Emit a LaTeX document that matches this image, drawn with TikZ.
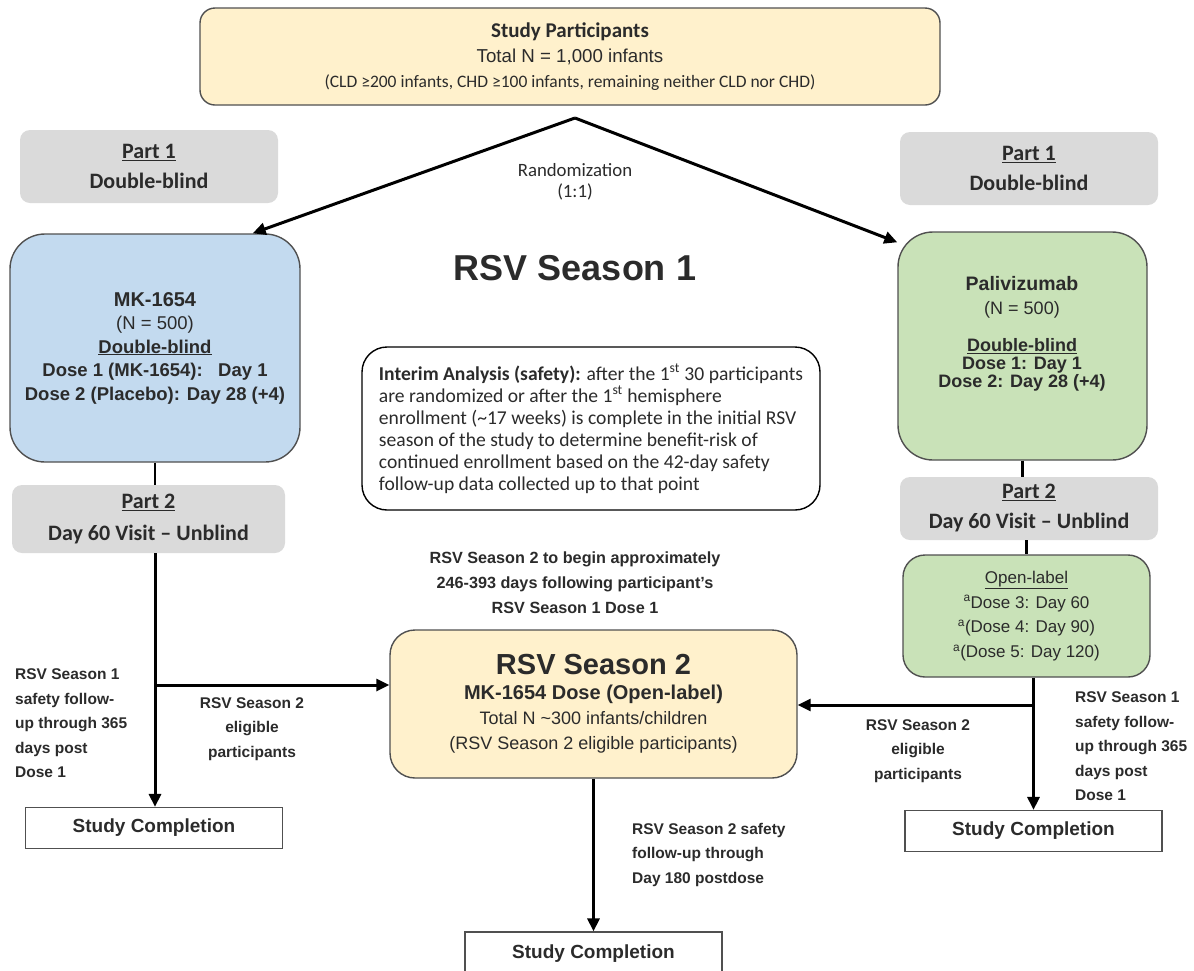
\documentclass[tikz,border=0pt]{standalone}
\usepackage{fontspec}
\setmainfont{Liberation Sans}
\newfontfamily\calibri{Carlito}
\usetikzlibrary{arrows.meta}
\definecolor{paleyellow}{HTML}{FFF1CC}
\definecolor{paleblue}{HTML}{C3DAEF}
\definecolor{palegreen}{HTML}{C9E2B8}
\definecolor{partgray}{HTML}{DADADA}
\definecolor{edgegray}{HTML}{505050}
\definecolor{inkgray}{HTML}{2B2B2B}

\begin{document}
\begin{tikzpicture}[x=1pt,y=-1pt,
  every node/.style={text=inkgray,inner sep=0pt},
  roundbox/.style={draw=edgegray,line width=1.4pt,minimum width=#1},
  partbox/.style={fill=partgray,rounded corners=10pt,minimum width=258pt,align=center,
    font=\calibri\bfseries\fontsize{22}{30}\selectfont},
  endbox/.style={draw=edgegray,line width=1.2pt,minimum width=257pt,minimum height=41pt,
    font=\bfseries\fontsize{19}{22}\selectfont},
  note/.style={align=center,font=\bfseries\fontsize{15.5}{24.5}\selectfont},
  arr/.style={line width=3pt,-{Triangle[length=13pt,width=12pt]}},
  link/.style={line width=2.5pt}]
\useasboundingbox (0,0) rectangle (1194,970);

\node[roundbox=740pt,fill=paleyellow,rounded corners=15pt,minimum height=97pt,align=center,
  font=\fontsize{18.7}{25}\selectfont] (top) at (570,56.5)
  {{\calibri\bfseries\fontsize{21}{25}\selectfont Study Participants}\\ Total N = 1,000 infants\\
   {\calibri\fontsize{17.5}{24}\selectfont (CLD ≥200 infants, CHD ≥100 infants, remaining neither CLD nor CHD)}};

\node[partbox,minimum height=73pt] (part1l) at (149,166.5) {\underline{Part 1}\\ Double-blind};
\node[partbox,minimum height=73pt] (part1r) at (1029,168.5) {\underline{Part 1}\\ Double-blind};

\coordinate (split) at (575,118);
\node[align=center,font=\calibri\fontsize{18.8}{21}\selectfont] (rand) at (575,182) {Randomization\\ (1:1)};
\node[font=\bfseries\fontsize{36}{40}\selectfont] (season1) at (575,268) {RSV Season 1};

\node[roundbox=290pt,fill=paleblue,rounded corners=35pt,minimum height=228pt,align=center,
  font=\bfseries\fontsize{18.5}{23.5}\selectfont] (mk) at (155,348)
  {{\fontsize{20}{23.5}\selectfont MK-1654}\\ {\mdseries (N = 500)}\\ \underline{Double-blind}\\
   Dose 1 (MK-1654):\ \ \ Day 1\\ Dose 2 (Placebo): Day 28 (+4)};

\node[roundbox=249pt,fill=palegreen,rounded corners=35pt,minimum height=228pt] (pali) at (1022.5,346) {};
\node[align=center,font=\bfseries\fontsize{18}{18}\selectfont] (palitext) at (1022,334)
  {{\fontsize{19.5}{18}\selectfont Palivizumab}\\[6pt] {\mdseries (N = 500)}\\[19pt]
   \underline{Double-blind}\\ Dose 1: Day 1\\ Dose 2: Day 28 (+4)};

\node[roundbox=458pt,fill=white,rounded corners=25pt,minimum height=163pt,align=left,
  font=\calibri\fontsize{19.6}{22}\selectfont,draw=black] (interim) at (591,428.5)
  {\textbf{Interim Analysis (safety):} after the 1\textsuperscript{st} 30 participants\\
   are randomized or after the 1\textsuperscript{st} hemisphere\\
   enrollment (\textasciitilde17 weeks) is complete in the initial RSV\\
   season of the study to determine benefit-risk of\\
   continued enrollment based on the 42-day safety\\
   follow-up data collected up to that point};

\node[partbox,minimum width=273pt,minimum height=68pt,font=\calibri\bfseries\fontsize{22}{32}\selectfont]
  (part2l) at (148.5,519) {\underline{Part 2}\\ Day 60 Visit – Unblind};
\node[partbox,minimum height=63pt] (part2r) at (1029,508.5) {\underline{Part 2}\\ Day 60 Visit – Unblind};

\node[roundbox=247pt,fill=palegreen,rounded corners=22pt,minimum height=122pt,align=center,
  font=\fontsize{17}{24.7}\selectfont] (open) at (1026.5,616)
  {\underline{Open-label}\\ \textsuperscript{a}Dose 3: Day 60\\ \textsuperscript{a}(Dose 4: Day 90)\\
   \textsuperscript{a}(Dose 5: Day 120)};

\node[note,font=\bfseries\fontsize{16.2}{25}\selectfont] (gap) at (575,583)
  {RSV Season 2 to begin approximately\\ 246-393 days following participant's\\ RSV Season 1 Dose 1};

\node[roundbox=407pt,fill=paleyellow,rounded corners=25pt,minimum height=148pt,align=center,
  font=\fontsize{18}{25}\selectfont] (season2) at (593.5,704)
  {{\bfseries\fontsize{29}{32}\selectfont RSV Season 2}\\ {\bfseries\fontsize{20}{25}\selectfont MK-1654 Dose (Open-label)}\\
   Total N \textasciitilde300 infants/children\\ (RSV Season 2 eligible participants)};

\node[endbox] (endl) at (154,828) {Study Completion};
\node[endbox] (endr) at (1033.5,831) {Study Completion};
\node[endbox,minimum height=43pt] (endb) at (593.5,953.5) {Study Completion};

\node[note,align=left,anchor=west] (fupl) at (15,723.5) {RSV Season 1\\ safety follow-\\ up through 365\\ days post\\ Dose 1};
\node[note,anchor=west,align=left] (fupr) at (1075,746.5) {RSV Season 1\\ safety follow-\\ up through 365\\ days post\\ Dose 1};
\node[note] (eligl) at (252,729) {RSV Season 2\\ eligible\\ participants};
\node[note] (eligr) at (918,751) {RSV Season 2\\ eligible\\ participants};
\node[note,align=left,anchor=west] (fupb) at (632,854.5) {RSV Season 2 safety\\ follow-up through\\ Day 180 postdose};

\draw[arr] (split) -- ([xshift=-48pt]mk.north east);
\draw[arr] (split) -- ([yshift=-11pt]pali.north west);
\draw[link] (mk.south) -- (mk.south |- part2l.north);
\draw[arr] (mk.south |- part2l.south) -- (mk.south |- endl.north);
\coordinate (lsplit) at (155,685);
\draw[arr] (lsplit) -- (season2.west |- lsplit);
\draw[link] (pali.south) -- (pali.south |- part2r.north);
\draw[link] (open.north |- part2r.south) -- (open.north);
\draw[arr] (endr.north |- open.south) -- (endr.north);
\coordinate (rsplit) at (1033.5,705);
\draw[arr] (rsplit) -- (season2.east |- rsplit);
\draw[arr] (season2.south) -- (endb.north);
\end{tikzpicture}
\end{document}
